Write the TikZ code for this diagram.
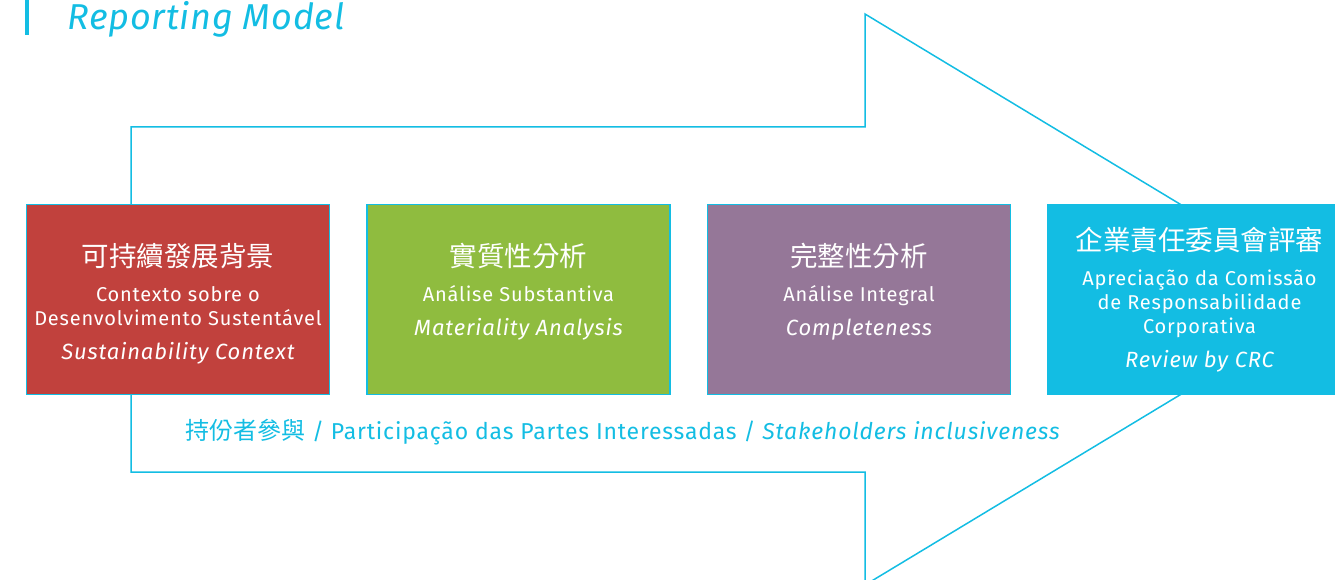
\documentclass[tikz,border=0pt]{standalone}
\usepackage{fontspec}
\setmainfont{Fira Sans}
\newfontfamily\cjk{Noto Sans CJK TC}
\newfontfamily\dinlike[LetterSpace=4]{Fira Sans}
\usetikzlibrary{positioning}

\definecolor{crccyan}{HTML}{13BDE3}
\definecolor{ctxred}{HTML}{C1413D}
\definecolor{matgreen}{HTML}{8FBC3F}
\definecolor{cmppurple}{HTML}{957798}

\begin{document}
\begin{tikzpicture}[
    x=1pt, y=-1pt,
    node distance=36pt,
    box/.style={rectangle, draw=crccyan, line width=1.5pt, inner sep=0pt, minimum width=303pt, minimum height=190pt},
    boxtext/.style={text=white, align=center, inner sep=0pt, font=\dinlike\fontsize{20}{24}\selectfont},
    outline/.style={draw=crccyan, line width=1.5pt}
]
\useasboundingbox (0,0) rectangle (1335,580);
\clip (0,0) rectangle (1335,580);

% Title
\node [fill=crccyan, inner sep=0pt, minimum width=4pt, minimum height=35pt, anchor=north west] (titlebar) at (25,0) {};
\node [right=38pt of titlebar, yshift=-2pt, inner sep=0pt, text=crccyan, font=\itshape\addfontfeatures{LetterSpace=2}\fontsize{36}{38}\selectfont] (title) {Reporting Model};

% Big arrow behind the boxes
\draw [outline] (131,127) -- (865,127) -- (865,14) -- (1338,299.5) -- (865,585) -- (865,472) -- (131,472) -- cycle;

% Four stages
\node [box, fill=ctxred] (context) at (178,299.5) {};
\node [box, fill=matgreen, right=of context] (materiality) {};
\node [box, fill=cmppurple, right=of materiality] (completeness) {};
\node [box, fill=crccyan, right=of completeness] (review) {};

% Stage texts
\node [boxtext] (contexttxt) at ([yshift=-4.5pt]context.center)
    {{\cjk\fontsize{27.5}{30}\selectfont 可持續發展背景}\\[11pt]
     Contexto sobre o\\ Desenvolvimento Sustentável\\[10pt]
     {\itshape\fontsize{22}{24}\selectfont Sustainability Context}};
\node [boxtext] (materialitytxt) at ([yshift=8pt]materiality.center)
    {{\cjk\fontsize{27.5}{30}\selectfont 實質性分析}\\[11pt]
     Análise Substantiva\\[10pt]
     {\itshape\fontsize{22}{24}\selectfont Materiality Analysis}};
\node [boxtext] (completenesstxt) at ([yshift=8pt]completeness.center)
    {{\cjk\fontsize{27.5}{30}\selectfont 完整性分析}\\[11pt]
     Análise Integral\\[10pt]
     {\itshape\fontsize{22}{24}\selectfont Completeness}};
\node [boxtext] (reviewtxt) at ([yshift=0pt]review.center)
    {{\cjk\fontsize{27.5}{30}\selectfont 企業責任委員會評審}\\[11pt]
     Apreciação da Comissão\\ de Responsabilidade\\ Corporativa\\[10pt]
     {\itshape\fontsize{22}{24}\selectfont Review by CRC}};

% Stakeholders label
\node [anchor=west, inner sep=0pt, text=crccyan, font=\dinlike\addfontfeatures{LetterSpace=3.5}\fontsize{23}{24}\selectfont] (stakeholders) at (185,432)
    {{\cjk\fontsize{24}{24}\selectfont 持份者參與} / Participação das Partes Interessadas / \textit{Stakeholders inclusiveness}};

\end{tikzpicture}
\end{document}
